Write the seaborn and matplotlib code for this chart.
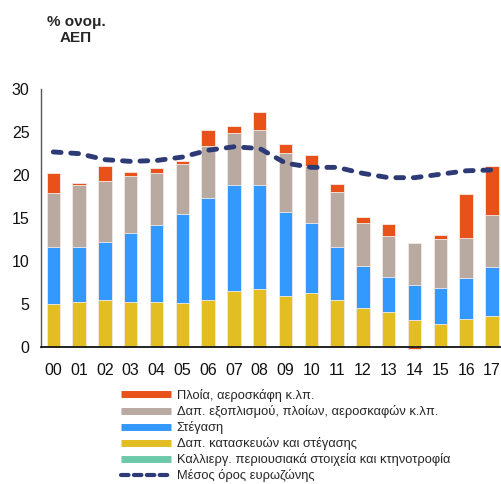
import numpy as np
import pandas as pd
import matplotlib.pyplot as plt
import seaborn as sns
from matplotlib.lines import Line2D

years = ['00', '01', '02', '03', '04', '05', '06', '07', '08',
         '09', '10', '11', '12', '13', '14', '15', '16', '17']
cultivated = [0.10, 0.10, 0.08, 0.06, 0.06, 0.05, 0.05, 0.05, 0.05,
              0.05, 0.05, 0.05, 0.05, 0.05, 0.05, 0.05, 0.05, 0.05]
construction = [4.87, 5.07, 5.32, 5.19, 5.11, 5.04, 5.39, 6.44, 6.64,
                5.89, 6.17, 5.39, 4.46, 3.99, 3.06, 2.60, 3.14, 3.53]
housing = [6.69, 6.49, 6.84, 8.04, 8.98, 10.34, 11.93, 12.36, 12.16,
           9.79, 8.16, 6.22, 4.93, 4.12, 4.08, 4.23, 4.85, 5.74]
equipment = [6.22, 7.19, 7.11, 6.61, 6.13, 5.90, 6.02, 6.09, 6.41,
             6.88, 6.68, 6.41, 4.94, 4.74, 4.86, 5.71, 4.63, 6.06]
ships = [2.32, 0.25, 1.75, 0.50, 0.52, 0.35, 1.87, 0.78, 2.09,
         0.98, 1.32, 0.86, 0.77, 1.37, -0.23, 0.43, 5.09, 5.68]
euro_avg = [22.7, 22.5, 21.8, 21.6, 21.7, 22.1, 22.9, 23.3, 23.1,
            21.4, 20.9, 20.9, 20.2, 19.7, 19.7, 20.1, 20.5, 20.6]

labels = ['Πλοία, αεροσκάφη κ.λπ.',
          'Δαπ. εξοπλισμού, πλοίων, αεροσκαφών κ.λπ.',
          'Στέγαση',
          'Δαπ. κατασκευών και στέγασης',
          'Καλλιεργ. περιουσιακά στοιχεία και κτηνοτροφία',
          'Μέσος όρος ευρωζώνης']
c_orange = '#E8511A'
c_grey = '#B8A9A1'
c_blue = '#3399FF'
c_yellow = '#E2BE22'
c_teal = '#6CC9A9'
c_navy = '#2E3A75'

df = pd.DataFrame({'year': years, 'cultivated': cultivated,
                   'construction': construction, 'housing': housing,
                   'equipment': equipment, 'ships': ships})
df['c1'] = df['cultivated']
df['c2'] = df['c1'] + df['construction']
df['c3'] = df['c2'] + df['housing']
df['c4'] = df['c3'] + df['equipment']
df['c5'] = df['c4'] + df['ships'].clip(lower=0)
df['neg'] = df['ships'].clip(upper=0)

sns.set_theme(style='white')
plt.rcParams['font.family'] = ['Liberation Sans', 'DejaVu Sans']

fig = plt.figure(figsize=(5.02, 4.84), dpi=100)
ax = fig.add_axes([0.081, 0.2837, 0.919, 0.5318])

# stacked bars drawn as layered cumulative totals
layers = [('c5', c_orange), ('c4', c_grey), ('c3', c_blue),
          ('c2', c_yellow), ('c1', c_teal), ('neg', c_orange)]
for col, color in layers:
    sns.barplot(data=df, x='year', y=col, color=color, saturation=1,
                width=0.52, errorbar=None, edgecolor='#f3ece8',
                linewidth=0.6, ax=ax)
for p in ax.patches:
    p.set_clip_on(False)

sns.lineplot(x=np.arange(len(years)), y=euro_avg, color=c_navy, lw=3.5,
             linestyle=(0, (1.6, 2.0)), dash_capstyle='round', ax=ax)

ax.set_xlim(-0.49, 17.39)
ax.set_ylim(0, 30)
ax.set_yticks(range(0, 31, 5))
ax.set_xlabel('')
ax.set_ylabel('')
ax.tick_params(axis='both', length=0, labelsize=11.5, colors='#111111')
ax.tick_params(axis='y', pad=8)
ax.tick_params(axis='x', pad=12)
ax.spines['top'].set_visible(False)
ax.spines['right'].set_visible(False)
ax.spines['left'].set_color('#555555')
ax.spines['left'].set_linewidth(1)
ax.spines['bottom'].set_color('black')
ax.spines['bottom'].set_linewidth(1.2)

fig.text(76 / 502, 1 - 15 / 484, '% ονομ.\nΑΕΠ', ha='center', va='top',
         fontsize=11, fontweight='bold', linespacing=1.2)

handles = [Line2D([], [], color=c_orange, lw=5, solid_capstyle='butt'),
           Line2D([], [], color=c_grey, lw=5, solid_capstyle='butt'),
           Line2D([], [], color=c_blue, lw=5, solid_capstyle='butt'),
           Line2D([], [], color=c_yellow, lw=5, solid_capstyle='butt'),
           Line2D([], [], color=c_teal, lw=5, solid_capstyle='butt'),
           Line2D([], [], color=c_navy, lw=3, linestyle=(0, (1.8, 1.3)),
                  dash_capstyle='round')]
fig.legend(handles, labels, loc='upper left',
           bbox_to_anchor=(121 / 502, 1 - 389 / 484), frameon=False,
           fontsize=9.3, handlelength=3.9, handletextpad=0.4,
           labelspacing=0.24, borderpad=0, borderaxespad=0)

fig.savefig('out.png', dpi=100)
